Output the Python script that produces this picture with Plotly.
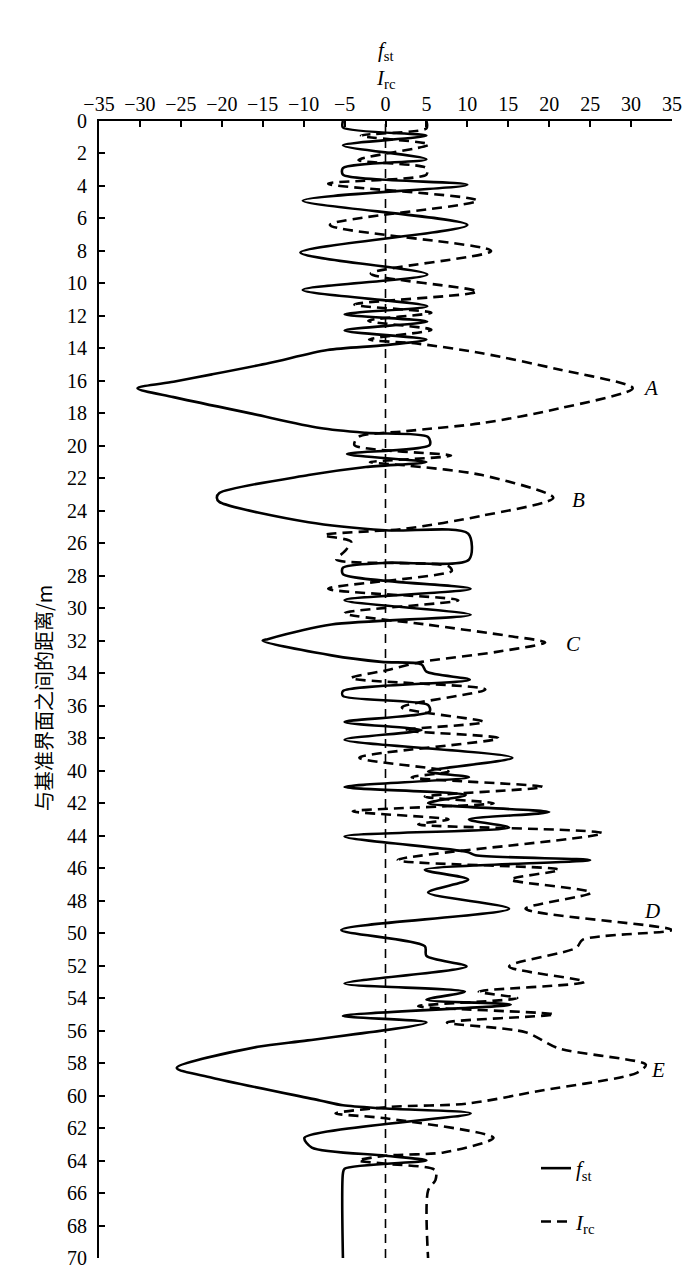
import plotly.graph_objects as go

# ---------------- data ----------------
# f_st : solid curve  (depth in m, value)
fst_depth = [0.0, 0.4, 0.9, 1.5, 2.35, 2.9, 3.3, 3.92, 4.9, 6.4, 8.1, 9.45, 10.4, 11.4, 11.9,
             12.35, 12.9, 13.45, 13.8, 14.1, 14.9, 15.6, 16.05, 16.45, 17.0, 18.0, 18.9, 19.2,
             19.45, 19.95, 20.5, 21.0, 21.3, 21.8, 22.9, 23.2, 23.45, 24.7, 25.2, 25.4, 27.0,
             27.2, 27.5, 27.9, 28.8, 29.5, 30.4, 31.0, 31.9, 32.0, 32.9, 33.3, 33.45, 33.9,
             34.4, 35.1, 35.4, 35.95, 36.35, 37.0, 37.5, 38.1, 39.2, 40.05, 40.4, 41.0, 41.5,
             42.0, 42.55, 43.0, 43.5, 44.05, 45.0, 45.2, 45.5, 46.1, 46.7, 47.5, 48.5, 49.8,
             50.8, 51.4, 52.05, 53.1, 53.6, 54.1, 54.4, 55.1, 55.5, 56.6, 57.0, 58.3, 58.9,
             60.3, 60.6, 60.8, 61.1, 62.6, 63.2, 63.7, 64.0, 64.5, 64.8, 70.0]
fst_value = [-5.2, -5.2, 5.0, -5.2, 5.0, -5.2, -5.2, 10.0, -10.1, 10.0, -10.4, 5.1, -10.1, 5.1, -5.0,
             5.1, -5.0, 5.0, 0.0, -7.1, -14.2, -21.2, -25.9, -30.3, -25.9, -16.5, -8.0, -2.4,
             5.2, 5.4, -4.7, 5.0, -2.4, -9.4, -20.3, -20.6, -20.3, -9.4, 0.0, 10.1, 10.2,
             0.0, -5.2, -5.2, 10.4, -5.0, 10.4, -6.6, -14.4, -15.0, -6.6, -0.5, 4.4, 5.0,
             10.3, -5.2, -5.2, 5.2, 5.4, -5.0, 4.4, -5.0, 15.5, 5.2, 10.2, -5.0, 9.8,
             5.2, 20.0, 10.2, 15.1, -5.0, 10.0, 11.0, 25.0, 4.8, 10.1, 5.2, 15.1, -5.4,
             4.8, 5.0, 9.9, -5.0, 9.7, 5.0, 15.3, -5.2, 5.0, -9.5, -15.6, -25.5, -21.2,
             -8.0, -5.2, 0.0, 10.4, -9.9, -9.0, 0.0, 5.0, -5.0, -5.2, -5.2]

# I_rc : dashed curve
irc_depth = [0.0, 0.45, 0.9, 1.45, 2.4, 2.9, 3.3, 3.86, 4.9, 6.4, 8.0, 9.4, 10.5, 11.3, 11.8,
             12.3, 12.85, 13.45, 13.7, 14.3, 15.3, 16.45, 17.7, 18.6, 19.1, 19.45, 19.95, 20.6,
             21.0, 21.2, 21.8, 23.2, 24.3, 25.1, 25.5, 25.9, 26.5, 27.0, 27.4, 27.7, 28.8,
             29.5, 30.3, 31.0, 31.7, 32.1, 32.7, 33.3, 33.8, 34.3, 35.0, 36.1, 37.0, 37.5,
             38.0, 39.2, 40.05, 40.4, 41.0, 41.6, 42.0, 42.5, 43.0, 43.3, 43.85, 45.5, 46.1,
             46.7, 47.5, 48.5, 49.8, 50.4, 50.9, 52.05, 53.0, 53.6, 54.0, 54.5, 55.0, 55.5,
             56.1, 57.1, 58.1, 58.6, 59.7, 60.5, 60.7, 61.1, 61.4, 62.6, 63.5, 63.7, 64.0,
             64.2, 64.6, 65.2, 65.85, 70.0]
irc_value = [5.0, 5.0, -3.0, 5.3, -3.3, 5.0, 5.0, -7.0, 11.2, -6.8, 12.9, -1.8, 11.2, -3.8, 5.6,
             -2.1, 5.6, -2.0, 3.8, 11.8, 21.2, 30.2, 21.2, 11.8, 2.4, -3.3, -3.8, 8.0,
             -1.9, 2.4, 11.8, 20.5, 11.8, 2.4, -7.5, -4.2, -5.0, -6.0, 7.7, 8.1, -7.0,
             8.9, -5.0, 5.0, 15.0, 19.5, 13.4, 4.4, 0.3, -4.2, 12.2, 2.0, 12.0, 2.3,
             13.8, -3.2, 7.7, 3.2, 19.2, 4.8, 13.2, -4.0, 7.7, 4.0, 26.5, 1.5, 21.2,
             15.3, 25.1, 17.1, 35.0, 24.1, 23.3, 15.1, 24.3, 11.4, 16.1, 4.0, 20.6, 7.5,
             17.1, 21.2, 31.8, 30.7, 18.9, 9.9, 0.5, -6.1, 0.0, 13.2, 7.1, 0.0, -3.3,
             0.0, 6.1, 6.1, 5.2, 5.2]

x_ticks = [-35, -30, -25, -20, -15, -10, -5, 0, 5, 10, 15, 20, 25, 30, 35]
y_ticks = list(range(0, 71, 2))

peak_labels = ["A", "B", "C", "D", "E"]
peak_label_x = [32.4, 23.6, 23.0, 32.5, 33.3]
peak_label_y = [16.45, 23.35, 32.2, 48.65, 58.4]

# ---------------- figure ----------------
SERIF = "Liberation Serif, Times New Roman, serif"

fig = go.Figure()
fig.add_trace(go.Scatter(
    x=fst_value, y=fst_depth, mode="lines",
    line=dict(color="black", width=2.6, shape="spline", smoothing=0.8),
    name="<i>f</i><sub>st</sub>", legendgroup="a"))
fig.add_trace(go.Scatter(
    x=irc_value, y=irc_depth, mode="lines",
    line=dict(color="black", width=2.6, dash="10px,6px", shape="spline", smoothing=0.8),
    name="<i>I</i><sub>rc</sub>", legendgroup="b"))

fig.add_vline(x=0, line=dict(color="black", width=1.6, dash="9px,6px"))

for t, xv, yv in zip(peak_labels, peak_label_x, peak_label_y):
    fig.add_annotation(x=xv, y=yv, text="<i>%s</i>" % t, showarrow=False,
                       xanchor="center", yanchor="middle",
                       font=dict(family=SERIF, size=21, color="black"))

# axis titles
fig.add_annotation(xref="paper", yref="paper", x=0.5, y=1 + (113 - 43) / 1137,
                   text="<i>f</i><sub>st</sub>", showarrow=False, yanchor="middle",
                   font=dict(family=SERIF, size=21, color="black"))
fig.add_annotation(xref="paper", yref="paper", x=0.5, y=1 + (113 - 71) / 1137,
                   text="<i>I</i><sub>rc</sub>", showarrow=False, yanchor="middle",
                   font=dict(family=SERIF, size=21, color="black"))
fig.add_annotation(xref="paper", yref="paper", x=(36 - 91) / 573, y=(1250 - 690) / 1137,
                   text="与基准界面之间的距离/m", showarrow=False, textangle=-90,
                   xanchor="center", yanchor="middle",
                   font=dict(family="Noto Sans CJK SC", size=20, color="black"))

fig.update_xaxes(range=[-35, 35], side="top", tickmode="array", tickvals=x_ticks,
                 ticks="inside", ticklen=6, tickwidth=1.5, tickcolor="black",
                 showline=True, linecolor="black", linewidth=1.8,
                 showgrid=False, zeroline=False,
                 tickfont=dict(family=SERIF, size=20, color="black"))
fig.update_yaxes(range=[70, 0], tickmode="array", tickvals=y_ticks,
                 ticks="inside", ticklen=6, tickwidth=1.5, tickcolor="black",
                 showline=True, linecolor="black", linewidth=1.8,
                 showgrid=False, zeroline=False, ticklabelstandoff=6,
                 tickfont=dict(family=SERIF, size=20, color="black"))

fig.update_layout(
    width=700, height=1285,
    margin=dict(l=91, r=36, t=113, b=35),
    paper_bgcolor="white", plot_bgcolor="white",
    showlegend=True,
    legend=dict(x=(528 - 91) / 573, y=(1250 - 1140) / 1137, xanchor="left", yanchor="top",
                bgcolor="rgba(0,0,0,0)", tracegroupgap=23, traceorder="grouped",
                font=dict(family=SERIF, size=21, color="black")),
)

fig.write_html("out.html")
